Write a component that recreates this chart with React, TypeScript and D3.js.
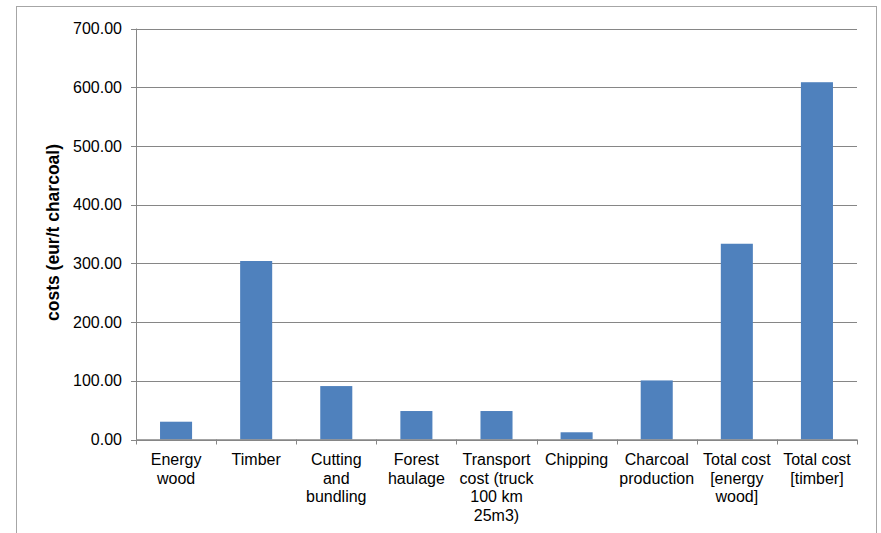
import React from "react";
import * as d3 from "d3";

const categories: string[][] = [
  ["Energy", "wood"],
  ["Timber"],
  ["Cutting", "and", "bundling"],
  ["Forest", "haulage"],
  ["Transport", "cost (truck", "100 km", "25m3)"],
  ["Chipping"],
  ["Charcoal", "production"],
  ["Total cost", "[energy", "wood]"],
  ["Total cost", "[timber]"],
];
const costs: number[] = [30.3, 304, 91, 48.5, 48.5, 12.3, 100.6, 333.4, 608.5];
const yTicks: number[] = [0, 100, 200, 300, 400, 500, 600, 700];
const yTitle = "costs (eur/t charcoal)";

const W = 881;
const H = 533;
const plot = { left: 136, right: 857, top: 28.5, bottom: 439.5 };
const font = "'Liberation Sans', Arial, sans-serif";

export default function App() {
  const ids = categories.map((_, i) => String(i));
  const x = d3
    .scaleBand<string>()
    .domain(ids)
    .range([plot.left, plot.right])
    .paddingInner(0.6)
    .paddingOuter(0.3);
  const y = d3.scaleLinear().domain([0, 700]).range([plot.bottom, plot.top]);
  const step = x.step();
  const axisColor = "#868686";

  return (
    <svg
      width={W}
      height={H}
      style={{ position: "absolute", left: 0, top: 0, background: "#fff" }}
      fontFamily={font}
    >
      <rect x={16.5} y={6.5} width={860} height={560} fill="#fff" stroke="#a6a6a6" strokeWidth={1} />

      {/* gridlines */}
      {yTicks.map((t) => (
        <line
          key={"g" + t}
          x1={plot.left}
          x2={plot.right}
          y1={Math.round(y(t)) + 0.5}
          y2={Math.round(y(t)) + 0.5}
          stroke={axisColor}
          strokeWidth={1}
        />
      ))}

      {/* bars */}
      {costs.map((v, i) => (
        <rect
          key={"b" + i}
          x={x(ids[i])}
          y={y(v)}
          width={x.bandwidth()}
          height={plot.bottom - y(v)}
          fill="#4F81BD"
        />
      ))}

      {/* y axis */}
      <line x1={plot.left + 0.5} x2={plot.left + 0.5} y1={plot.top} y2={plot.bottom} stroke={axisColor} strokeWidth={1} />
      {yTicks.map((t) => (
        <g key={"t" + t}>
          <line
            x1={plot.left - 5}
            x2={plot.left}
            y1={Math.round(y(t)) + 0.5}
            y2={Math.round(y(t)) + 0.5}
            stroke={axisColor}
          />
          <text
            x={122}
            y={y(t)}
            dy="0.35em"
            textAnchor="end"
            fontSize={16}
            fill="#000"
          >
            {d3.format(".2f")(t)}
          </text>
        </g>
      ))}

      {/* x axis */}
      <line x1={plot.left} x2={plot.right} y1={plot.bottom + 0.5} y2={plot.bottom + 0.5} stroke={axisColor} strokeWidth={1.5} />
      {d3.range(categories.length + 1).map((i) => {
        const xx = Math.round(plot.left + i * step) + 0.5;
        return (
          <line key={"xt" + i} x1={xx} x2={xx} y1={plot.bottom} y2={plot.bottom + 5} stroke={axisColor} />
        );
      })}
      {categories.map((lines, i) => {
        const cx = (x(ids[i]) as number) + x.bandwidth() / 2;
        return (
          <text key={"c" + i} x={cx} y={465} textAnchor="middle" fontSize={16} fill="#000">
            {lines.map((ln, j) => (
              <tspan key={j} x={cx} y={465 + j * 18.6}>
                {ln}
              </tspan>
            ))}
          </text>
        );
      })}

      {/* y title */}
      <text
        transform={`translate(53,${232.5}) rotate(-90)`}
        textAnchor="middle"
        dy="0.35em"
        fontSize={17.5}
        fontWeight="bold"
        fill="#000"
      >
        {yTitle}
      </text>
    </svg>
  );
}
